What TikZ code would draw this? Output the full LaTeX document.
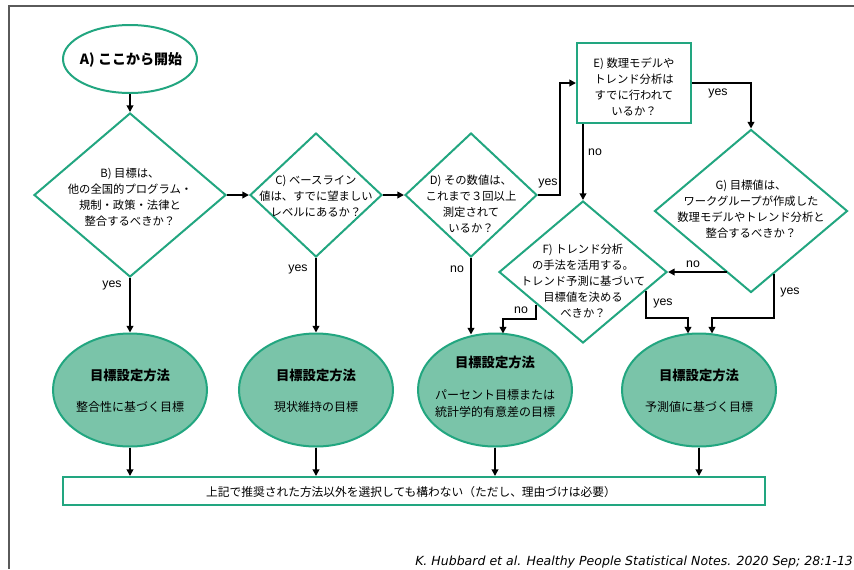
\documentclass[tikz,border=0pt]{standalone}
\usepackage{fontspec}
\setmainfont{Liberation Sans}
\newfontfamily\jp{Noto Sans CJK JP}
\newfontfamily\citefont{DejaVu Sans}
\usetikzlibrary{shapes.geometric,arrows.meta,calc}
\definecolor{gline}{RGB}{34,166,128}
\definecolor{gfill}{RGB}{122,196,169}
\definecolor{framec}{RGB}{90,90,90}
\begin{document}
\begin{tikzpicture}[x=0.75pt,y=-0.75pt,
  dia/.style={diamond, draw=gline, line width=1.5pt, inner sep=0pt},
  ell/.style={ellipse, draw=gline, line width=1.5pt, inner sep=0pt},
  goal/.style={ellipse, draw=gline, fill=gfill, line width=1.5pt, inner sep=0pt, minimum width=115.5pt, minimum height=84.75pt},
  box/.style={rectangle, draw=gline, line width=1.5pt, inner sep=0pt},
  txt/.style={font=\jp\fontsize{8.5pt}{12pt}\selectfont, align=center, inner sep=0pt},
  gtitle/.style={font=\jp\bfseries\fontsize{10pt}{12pt}\selectfont, inner sep=0pt},
  gbody/.style={font=\jp\fontsize{9pt}{12.75pt}\selectfont, align=center, inner sep=0pt},
  yn/.style={font=\fontsize{9.25pt}{11pt}\selectfont, inner sep=0pt},
  arr/.style={draw=black, line width=1.5pt, -{Triangle[length=5pt,width=5pt]}},
]
\useasboundingbox (0,0) rectangle (854,569);
\draw[framec, line width=1.1pt] (854,6) -- (9,6) -- (9,569);

\node[ell, minimum width=100.5pt, minimum height=51pt] (A) at (130,59) {};
\node[font=\jp\bfseries\fontsize{10.5pt}{12pt}\selectfont, inner sep=0pt] (At) at (131,60) {A) ここから開始};

\node[dia, minimum width=144pt, minimum height=123pt] (B) at (130,195) {};
\node[txt] (Bt) at (130,197) {B) 目標は、\\他の全国的プログラム・\\規制・政策・法律と\\整合するべきか？};

\node[dia, minimum width=99pt, minimum height=93pt] (C) at (316,195) {};
\node[txt] (Ct) at (316,196) {C) ベースライン\\値は、すでに望ましい\\レベルにあるか？};

\node[dia, minimum width=99pt, minimum height=93pt] (D) at (471,195) {};
\node[txt] (Dt) at (471,204) {D) その数値は、\\これまで３回以上\\測定されて\\いるか？};

\node[box, minimum width=85.5pt, minimum height=60pt] (E) at (634,83) {};
\node[txt] (Et) at (634,87) {E) 数理モデルや\\トレンド分析は\\すでに行われて\\いるか？};

\node[dia, minimum width=126pt, minimum height=106.5pt] (F) at (583,272) {};
\node[txt] (Ft) at (583,281) {F) トレンド分析\\の手法を活用する。\\トレンド予測に基づいて\\目標値を決める\\べきか？};

\node[dia, minimum width=144.75pt, minimum height=122.25pt] (G) at (751,211) {};
\node[txt] (Gt) at (751,209) {G) 目標値は、\\ワークグループが作成した\\数理モデルやトレンド分析と\\整合するべきか？};

\node[goal] (E1) at (130,390) {};
\node[gtitle] (E1t) at (130,375) {目標設定方法};
\node[gbody] (E1b) at (130,407) {整合性に基づく目標};

\node[goal] (E2) at (316,390) {};
\node[gtitle] (E2t) at (316,375) {目標設定方法};
\node[gbody] (E2b) at (316,407) {現状維持の目標};

\node[goal] (E3) at (495,390) {};
\node[gtitle] (E3t) at (495,362) {目標設定方法};
\node[gbody] (E3b) at (495,403) {パーセント目標または\\統計学的有意差の目標};

\node[goal] (E4) at (699,390) {};
\node[gtitle] (E4t) at (699,375) {目標設定方法};
\node[gbody] (E4b) at (699,407) {予測値に基づく目標};

\node[box, minimum width=526.5pt, minimum height=21pt] (H) at (414,491) {};
\node[font=\jp\fontsize{8.8pt}{11pt}\selectfont, inner sep=0pt] (Ht) at (411,492) {上記で推奨された方法以外を選択しても構わない（ただし、理由づけは必要）};

\node[font=\citefont\itshape\fontsize{9.4pt}{11pt}\selectfont, anchor=west, inner sep=0pt] (cite) at (415,562) {K. Hubbard et al. Healthy People Statistical Notes. 2020 Sep; 28:1-13};

\draw[arr] (A.south) -- (B.north);
\draw[arr] (B.east) -- (C.west);
\draw[arr] (C.east) -- (D.west);
\draw[arr] (D.east) -- ++(22,0) |- (E.west);
\draw[arr] (E.east) -| (G.north);
\draw[arr] (F.north |- E.south) -- (F.north);
\coordinate (g1) at ($(G.west)!0.753!(G.south)$);
\draw[arr] (F.east -| g1) -- (F.east);
\coordinate (g2) at ($(G.south)!0.237!(G.east)$);
\draw[arr] (g2) -- ++(0,44) -| ($(E4.north)+(13,1)$);
\coordinate (f1) at ($(F.east)!0.259!(F.south)$);
\draw[arr] (f1) -- ++(0,27) -| ($(E4.north)+(-11,1)$);
\coordinate (f2) at ($(F.west)!0.452!(F.south)$);
\draw[arr] (f2) -- ++(0,14) -| ($(E3.north)+(8,1)$);
\draw[arr] (D.south) -- ($(E3.north)+(-24,2)$);
\draw[arr] (C.south) -- (E2.north);
\draw[arr] (B.south) -- (E1.north);
\draw[arr] (E1.south) -- (E1.south |- H.north);
\draw[arr] (E2.south) -- (E2.south |- H.north);
\draw[arr] (E3.south) -- (E3.south |- H.north);
\draw[arr] (E4.south) -- (E4.south |- H.north);

\node[yn] (l1) at (112,285) {yes};
\node[yn] (l2) at (298,269) {yes};
\node[yn] (l3) at (457,269) {no};
\node[yn] (l4) at (548,183) {yes};
\node[yn] (l5) at (595,152) {no};
\node[yn] (l6) at (718,93) {yes};
\node[yn] (l7) at (693,264) {no};
\node[yn] (l8) at (790,292) {yes};
\node[yn] (l9) at (663,303) {yes};
\node[yn] (l10) at (521,310) {no};
\end{tikzpicture}
\end{document}
